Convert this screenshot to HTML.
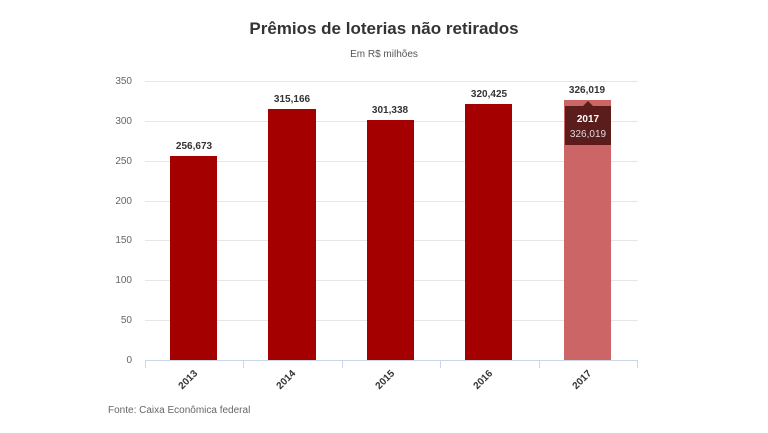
<!DOCTYPE html>
<html><head><meta charset="utf-8"><style>
html,body{margin:0;padding:0;background:#fff;}
svg{display:block;font-family:"Liberation Sans",sans-serif;}
</style></head><body>
<svg width="768" height="433" viewBox="0 0 768 433">
<text x="384" y="34" text-anchor="middle" font-size="17" font-weight="bold" fill="#333">Prêmios de loterias não retirados</text>
<text x="384" y="57" text-anchor="middle" font-size="10" fill="#555">Em R$ milhões</text>
<g stroke="#e6e6e6" stroke-width="1">
<line x1="145" x2="638" y1="81.5" y2="81.5"/><line x1="145" x2="638" y1="121.5" y2="121.5"/>
<line x1="145" x2="638" y1="161.5" y2="161.5"/><line x1="145" x2="638" y1="201.5" y2="201.5"/>
<line x1="145" x2="638" y1="240.5" y2="240.5"/><line x1="145" x2="638" y1="280.5" y2="280.5"/>
<line x1="145" x2="638" y1="320.5" y2="320.5"/>
</g>
<g font-size="10" fill="#666" text-anchor="end">
<text x="132" y="84">350</text><text x="132" y="124">300</text><text x="132" y="164">250</text>
<text x="132" y="204">200</text><text x="132" y="243">150</text><text x="132" y="283">100</text>
<text x="132" y="323">50</text><text x="132" y="363">0</text>
</g>
<g fill="#a50000">
<rect x="170" y="156" width="47" height="204"/>
<rect x="268" y="109" width="48" height="251"/>
<rect x="367" y="120" width="47" height="240"/>
<rect x="465" y="104" width="47" height="256"/>
</g>
<rect x="564" y="100" width="47" height="260" fill="#cc6666"/>
<line x1="145" x2="638" y1="360.5" y2="360.5" stroke="#ccd6eb"/>
<g stroke="#ccd6eb"><line x1="145.5" x2="145.5" y1="360" y2="368"/><line x1="243.5" x2="243.5" y1="360" y2="368"/><line x1="342.5" x2="342.5" y1="360" y2="368"/><line x1="440.5" x2="440.5" y1="360" y2="368"/><line x1="539.5" x2="539.5" y1="360" y2="368"/><line x1="637.5" x2="637.5" y1="360" y2="368"/></g>
<g font-size="10" font-weight="bold" fill="#333" text-anchor="middle">
<text x="194" y="149">256,673</text><text x="292" y="102">315,166</text><text x="390" y="113">301,338</text>
<text x="489" y="97">320,425</text><text x="587" y="93">326,019</text>
</g>
<g font-size="10" font-weight="bold" fill="#333" text-anchor="end">
<text transform="translate(198,374) rotate(-45)">2013</text>
<text transform="translate(296,374) rotate(-45)">2014</text>
<text transform="translate(395,374) rotate(-45)">2015</text>
<text transform="translate(493,374) rotate(-45)">2016</text>
<text transform="translate(592,374) rotate(-45)">2017</text>
</g>
<path d="M565 106 H583 L588 101 L593 106 H611 V145 H565 Z" fill="#5b1c1c"/>
<text x="588" y="122" text-anchor="middle" font-size="10" font-weight="bold" fill="#fff">2017</text>
<text x="588" y="137" text-anchor="middle" font-size="10" fill="#ddd">326,019</text>
<text x="108" y="413" font-size="10" fill="#666">Fonte: Caixa Econômica federal</text>
</svg>
</body></html>
